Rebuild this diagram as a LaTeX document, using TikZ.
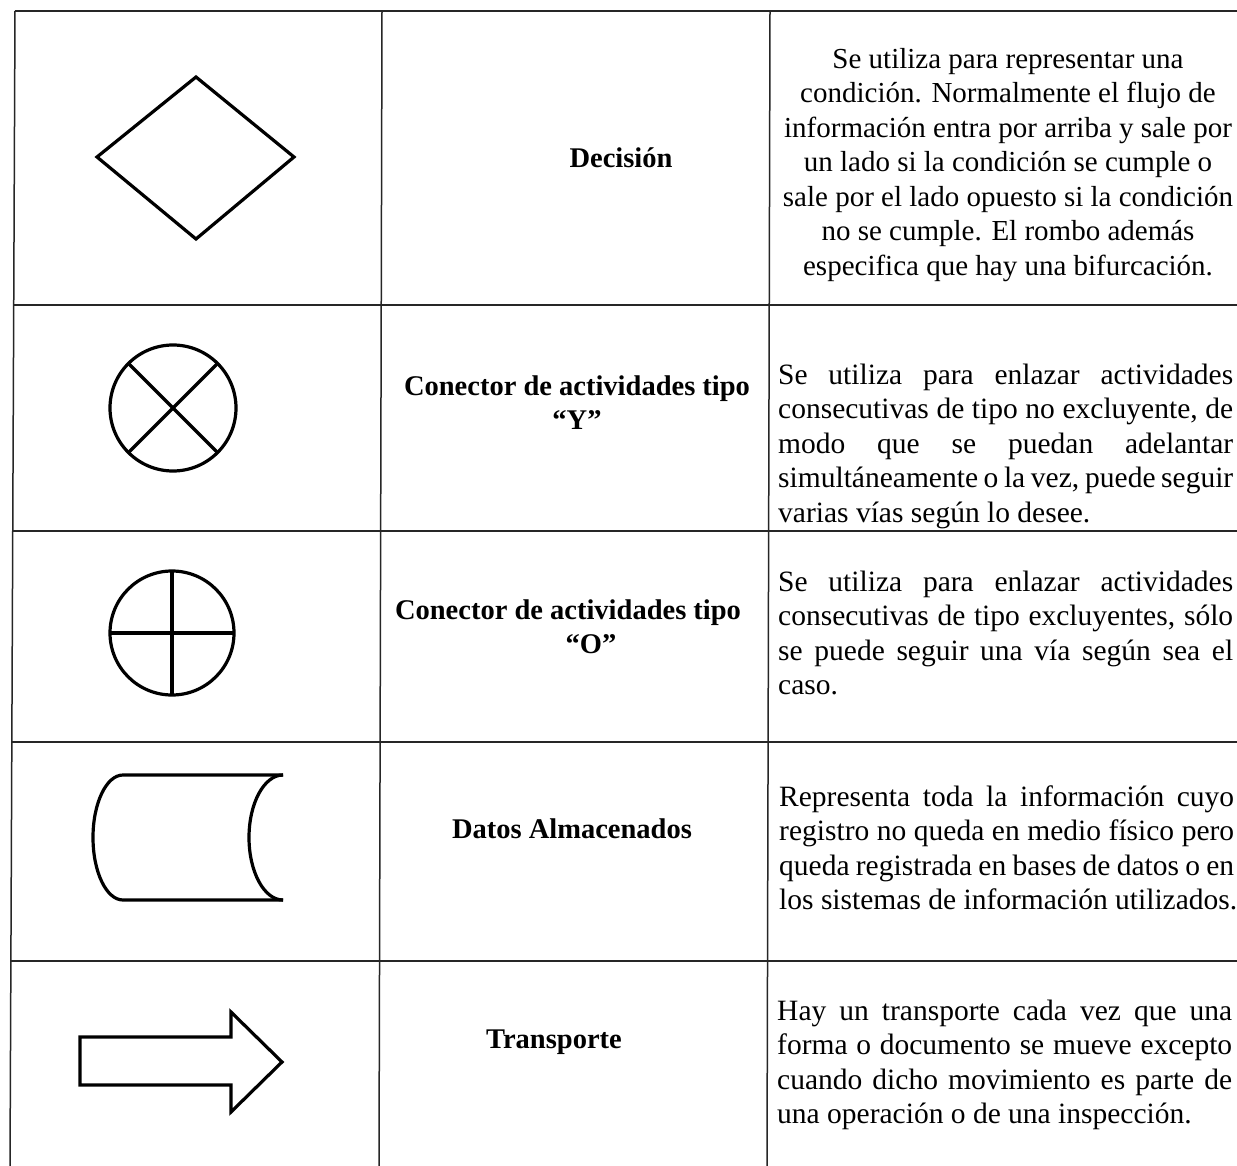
\documentclass[tikz,border=0pt]{standalone}
\usepackage{fontspec}
\setmainfont{Liberation Serif}
\setlength\parindent{0pt}
\newcommand\jline[1]{\hbox to 455pt{\spaceskip=0pt\xspaceskip=0pt #1}}
\newcommand\lline[1]{\hbox{\spaceskip=0pt\xspaceskip=0pt #1}}
\newcommand\cstack[1]{\begin{tabular}{@{}c@{}}#1\end{tabular}}
\tikzset{
  gridline/.style={line width=1.5pt, draw=black!85},
  symbol/.style={line width=3.2pt, draw=black, line join=miter},
  desc/.style={font=\fontsize{29.5}{34.5}\selectfont, inner sep=0pt, anchor=west},
  descc/.style={font=\fontsize{29}{34.5}\selectfont, inner sep=0pt},
  lbl/.style={font=\fontsize{28.5}{34}\selectfont\bfseries, inner sep=0pt},
}
\begin{document}
\begin{tikzpicture}[x=1pt,y=-1pt]
\useasboundingbox (0,0) rectangle (1237,1166);
\fill[white] (0,0) rectangle (1237,1166);
% table grid
\coordinate (tl) at (15,11);   \coordinate (bl) at (10,1166);
\coordinate (c2t) at (382,11); \coordinate (c2b) at (379,1166);
\coordinate (c3t) at (770,11); \coordinate (c3b) at (767,1166);
\draw[gridline] (tl) -- (bl);
\draw[gridline] (c2t) -- (c2b);
\draw[gridline] (c3t) -- (c3b);
\foreach \yy/\xl in {11/15,305/13,531/12,742/11,961/10}
  \draw[gridline] (\xl,\yy) -- (1237,\yy);

% row 1: decision diamond
\draw[symbol] (196,77) -- (294,157) -- (196,239) -- (97,157) -- cycle;
\node[lbl] (l1) at (621,158) {Decisión};
\node[descc] (d1) at (1008,165) {\cstack{Se utiliza para representar una\\
condición. Normalmente el flujo de\\
información entra por arriba y sale por\\
un lado si la condición se cumple o\\
sale por el lado opuesto si la condición\\
no se cumple. El rombo además\\
especifica que hay una bifurcación.}};

% row 2: circle with X
\draw[symbol] (173,408) circle[radius=63];
\draw[symbol] (128.5,363.5) -- (217.5,452.5);
\draw[symbol] (217.5,363.5) -- (128.5,452.5);
\node[lbl] (l2) at (577,406) {\cstack{Conector de actividades tipo\\“Y”}};
\node[desc] (d2) at (778,446) {\vbox{\jline{Se utiliza para enlazar actividades}
\jline{consecutivas de tipo no excluyente, de}
\jline{modo que se puedan adelantar}
\jline{simultáneamente o la vez, puede seguir}
\lline{varias vías según lo desee.}}};

% row 3: circle with +
\draw[symbol] (172,633) circle[radius=62];
\draw[symbol] (172,571) -- (172,695);
\draw[symbol] (110,633) -- (234,633);
\node[lbl] (l3) at (568,630) {\cstack{Conector de actividades tipo\\\hspace*{46pt}“O”}};
\node[desc] (d3) at (778,633) {\vbox{\jline{Se utiliza para enlazar actividades}
\jline{consecutivas de tipo excluyentes, sólo}
\jline{se puede seguir una vía según sea el}
\lline{caso.}}};

% row 4: stored data
\draw[symbol] (283,775) -- (123,775)
  .. controls (106.4,775) and (93,803) .. (93,837.5)
  .. controls (93,872) and (106.4,900) .. (123,900) -- (283,900);
\draw[symbol] (283,775) .. controls (264.2,775) and (249,803) .. (249,837.5)
  .. controls (249,872) and (264.2,900) .. (283,900);
\node[lbl] (l4) at (572,829) {Datos Almacenados};
\node[desc] (d4) at (779,848) {\vbox{\jline{Representa toda la información cuyo}
\jline{registro no queda en medio físico pero}
\jline{queda registrada en bases de datos o en}
\lline{los sistemas de información utilizados.}}};

% row 5: transport arrow
\draw[symbol] (80,1037) -- (231,1037) -- (231,1012) -- (282,1062) -- (231,1112) -- (231,1085) -- (80,1085) -- cycle;
\node[lbl] (l5) at (554,1042) {Transporte};
\node[desc] (d5) at (777,1065) {\vbox{\jline{Hay un transporte cada vez que una}
\jline{forma o documento se mueve excepto}
\jline{cuando dicho movimiento es parte de}
\lline{una operación o de una inspección.}}};
\end{tikzpicture}
\end{document}
